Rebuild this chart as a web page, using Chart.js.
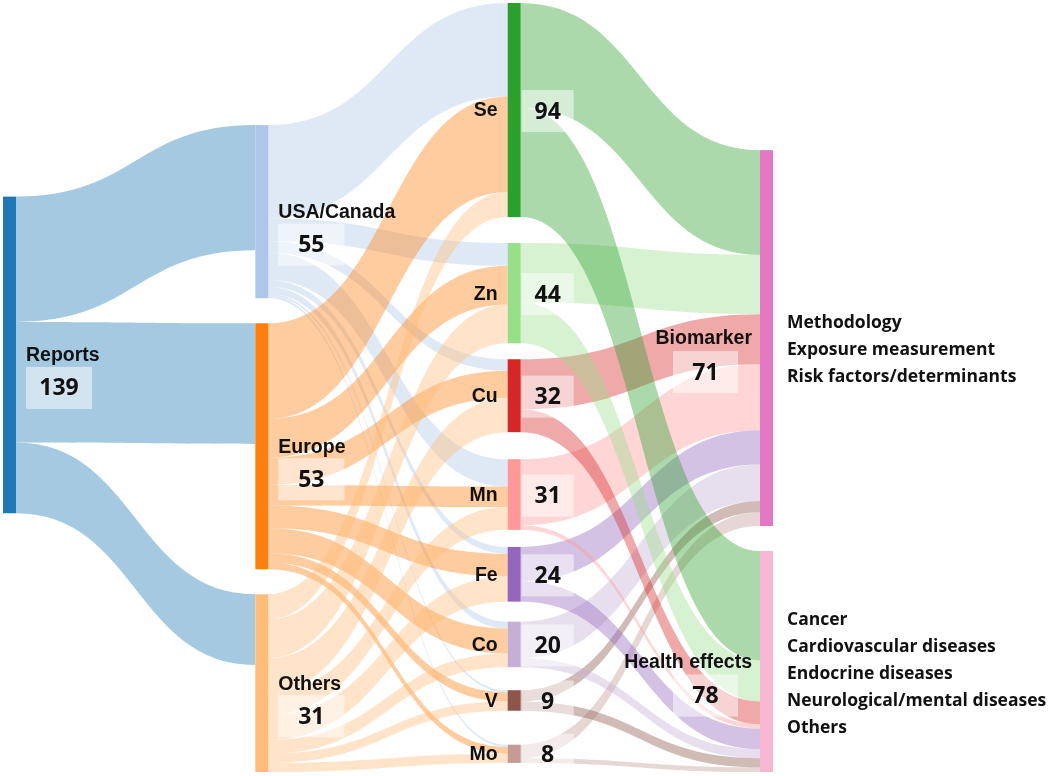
<!DOCTYPE html>
<html>
<head>
<meta charset="utf-8">
<script src="https://cdn.jsdelivr.net/npm/chart.js@4.4.0/dist/chart.umd.min.js"></script>
<style>
  body { margin: 0; background: #fff; }
  #wrap { width: 1050px; height: 776px; position: relative; }
</style>
</head>
<body>
<div id="wrap"><canvas id="sankey"></canvas></div>
<script>
// ---- data ----
const nodeNames = ['Reports', 'USA/Canada', 'Europe', 'Others', 'Se', 'Zn', 'Cu', 'Mn', 'Fe', 'Co', 'V', 'Mo', 'Biomarker', 'Health effects'];
const nodeColumns = [0, 1, 1, 1, 2, 2, 2, 2, 2, 2, 2, 2, 3, 3];
const nodeCounts = [139, 55, 53, 31, 94, 44, 32, 31, 24, 20, 9, 8, 71, 78];

const regions = ['USA/Canada', 'Europe', 'Others'];
const reportsToRegion = [55, 53, 31];

const elements = ['Se', 'Zn', 'Cu', 'Mn', 'Fe', 'Co', 'V', 'Mo'];
const usaToElement = [41, 10, 5, 12, 3, 3, 1, 1];
const europeToElement = [42, 17, 12, 9, 10, 11, 4, 3];
const othersToElement = [11, 17, 15, 10, 11, 6, 4, 4];

const outcomes = ['Biomarker', 'Health effects'];
const elementToBiomarker = [46, 26, 22, 29, 15, 16, 5, 6];
const elementToHealth = [48, 18, 10, 2, 9, 4, 4, 2];

const biomarkerTopics = ['Methodology', 'Exposure measurement', 'Risk factors/determinants'];
const healthTopics = ['Cancer', 'Cardiovascular diseases', 'Endocrine diseases', 'Neurological/mental diseases', 'Others'];

// ---- look ----
const nodeColors = ['#1f77b4', '#aec7e8', '#ff7f0e', '#ffbb78', '#2ca02c', '#98df8a', '#d62728', '#ff9896',
                    '#9467bd', '#c5b0d5', '#8c564b', '#c49c94', '#e377c2', '#f7b6d2'];
// space above each node, in flow units (first node of a column = offset from the top)
const nodeGap = [85, 53.6, 11, 11, 0, 11.4, 7, 11.9, 7.5, 8.8, 10.1, 14.9, 64.6, 11];
const NODE_W = 13;
const LINK_ALPHA = 0.4;

function rgba(hex, a) {
    const n = parseInt(hex.slice(1), 16);
    return `rgba(${n >> 16}, ${(n >> 8) & 255}, ${n & 255}, ${a})`;
}

// build nodes and links
const nodes = nodeNames.map((name, i) => ({
    name, col: nodeColumns[i], count: nodeCounts[i], color: nodeColors[i], inSum: 0, outSum: 0, inOff: 0, outOff: 0
}));
const idx = name => nodeNames.indexOf(name);
const links = [];
function addLink(s, t, v) {
    if (!v) return;
    links.push({ s, t, v });
    nodes[s].outSum += v;
    nodes[t].inSum += v;
}
regions.forEach((r, i) => addLink(idx('Reports'), idx(r), reportsToRegion[i]));
[usaToElement, europeToElement, othersToElement].forEach((row, i) =>
    row.forEach((v, j) => addLink(idx(regions[i]), idx(elements[j]), v)));
elements.forEach((e, j) => addLink(idx(e), idx('Biomarker'), elementToBiomarker[j]));
elements.forEach((e, j) => addLink(idx(e), idx('Health effects'), elementToHealth[j]));

// stack nodes in each column
const colCursor = {};
nodes.forEach((n, i) => {
    n.size = Math.max(n.inSum, n.outSum);
    n.y0 = (colCursor[n.col] || 0) + nodeGap[i];
    n.y1 = n.y0 + n.size;
    colCursor[n.col] = n.y1;
});
const yMax = Math.max(...Object.values(colCursor));

// link offsets (links are already ordered by source / target position)
links.forEach(l => {
    const a = nodes[l.s], b = nodes[l.t];
    l.sy = a.y0 + a.outOff; a.outOff += l.v;
    l.ty = b.y0 + b.inOff; b.inOff += l.v;
});

function valueBox(ctx, x, y, w, h, text) {
    ctx.fillStyle = 'rgba(255,255,255,0.5)';
    ctx.fillRect(x, y, w, h);
    ctx.fillStyle = '#111';
    ctx.font = 'bold 23px "Open Sans"';
    ctx.textAlign = 'center';
    ctx.textBaseline = 'middle';
    ctx.fillText(text, x + w / 2, y + h / 2 + 1);
}

const sankeyPlugin = {
    id: 'sankey',
    afterDatasetsDraw(chart) {
        const { ctx, scales: { x, y } } = chart;
        const px = c => x.getPixelForValue(c);
        const py = v => y.getPixelForValue(v);
        ctx.save();

        // links
        links.forEach(l => {
            const a = nodes[l.s], b = nodes[l.t];
            const x0 = px(a.col) + NODE_W, x1 = px(b.col), xm = (x0 + x1) / 2;
            const s0 = py(l.sy), s1 = py(l.sy + l.v);
            const t0 = py(l.ty), t1 = py(l.ty + l.v);
            ctx.beginPath();
            ctx.moveTo(x0, s0);
            ctx.bezierCurveTo(xm, s0, xm, t0, x1, t0);
            ctx.lineTo(x1, t1);
            ctx.bezierCurveTo(xm, t1, xm, s1, x0, s1);
            ctx.closePath();
            ctx.fillStyle = rgba(a.color, LINK_ALPHA);
            ctx.fill();
        });

        // nodes
        nodes.forEach(n => {
            ctx.fillStyle = n.color;
            ctx.fillRect(px(n.col), py(n.y0), NODE_W, py(n.y1) - py(n.y0));
        });

        // labels
        nodes.forEach(n => {
            const left = px(n.col), right = left + NODE_W;
            const cy = (py(n.y0) + py(n.y1)) / 2;
            ctx.font = 'bold 19.5px "Liberation Sans"';
            ctx.fillStyle = '#111';
            ctx.textBaseline = 'middle';
            if (n.col <= 1) {
                ctx.textAlign = 'left';
                ctx.fillText(n.name, right + 10, cy + 1);
                valueBox(ctx, right + 10, cy + 12, 66, 42, String(n.count));
            } else if (n.col === 2) {
                ctx.textAlign = 'right';
                ctx.fillText(n.name, left - 10, cy + 1);
                valueBox(ctx, right + 1, cy - 20, 52, 42, String(n.count));
            } else {
                ctx.textAlign = 'right';
                ctx.fillText(n.name, left - 8, cy + 1);
                valueBox(ctx, left - 87, cy + 13, 65, 42, String(n.count));
            }
        });

        // topic lists beside the outcome nodes
        ctx.font = 'bold 17.5px "Open Sans"';
        ctx.textAlign = 'left';
        ctx.textBaseline = 'middle';
        ctx.fillStyle = '#111';
        [[idx('Biomarker'), biomarkerTopics], [idx('Health effects'), healthTopics]].forEach(([ni, list]) => {
            const n = nodes[ni];
            const cy = (py(n.y0) + py(n.y1)) / 2 + 12;
            const lx = px(n.col) + NODE_W + 14;
            list.forEach((t, k) => ctx.fillText(t, lx, cy + (k - (list.length - 1) / 2) * 27));
        });
        ctx.restore();
    }
};

new Chart(document.getElementById('sankey'), {
    type: 'scatter',
    data: { datasets: [{ data: [] }] },
    options: {
        responsive: true,
        maintainAspectRatio: false,
        animation: false,
        layout: { padding: { left: 3, right: 290, top: 3, bottom: 4 } },
        plugins: { legend: { display: false }, tooltip: { enabled: false } },
        scales: {
            x: { type: 'linear', min: 0, max: 3, display: false },
            y: { type: 'linear', min: 0, max: yMax, reverse: true, display: false }
        }
    },
    plugins: [sankeyPlugin]
});
</script>
</body>
</html>
